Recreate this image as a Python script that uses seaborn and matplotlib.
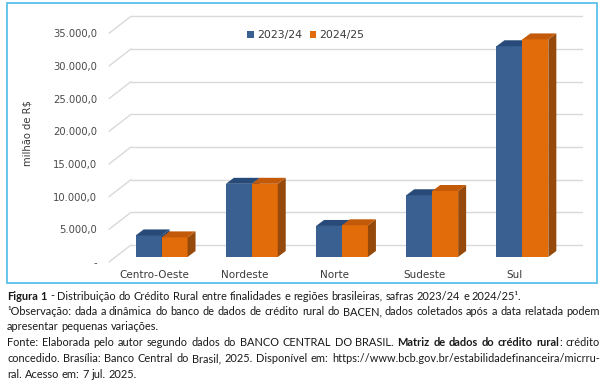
import numpy as np
import pandas as pd
import matplotlib
matplotlib.use("Agg")
import matplotlib.pyplot as plt
import seaborn as sns
from matplotlib.patches import Polygon, Rectangle
from matplotlib.lines import Line2D
from matplotlib import font_manager

# ---------------- data ----------------
regioes = ["Centro-Oeste", "Nordeste", "Norte", "Sudeste", "Sul"]
safras = ["2023/24", "2024/25"]
valores_2023_24 = [3300, 11200, 4750, 9450, 32250]
valores_2024_25 = [3000, 11200, 4850, 10100, 33300]
y_ticks = [0, 5000, 10000, 15000, 20000, 25000, 30000, 35000]
y_tick_labels = ["-", "5.000,0", "10.000,0", "15.000,0", "20.000,0",
                 "25.000,0", "30.000,0", "35.000,0"]
y_label = "milhão de R$"

caption_lines = [
    ([("Figura 1", "bold"), (" - Distribuição do Crédito Rural entre finalidades e regiões brasileiras, safras 2023/24 e 2024/25¹.", "normal")], False),
    ([("¹Observação: dada a dinâmica do banco de dados de crédito rural do BACEN, dados coletados após a data relatada podem", "normal")], True),
    ([("apresentar pequenas variações.", "normal")], False),
    ([("Fonte: Elaborada pelo autor segundo dados do BANCO CENTRAL DO BRASIL. ", "normal"), ("Matriz de dados do crédito rural", "bold"), (": crédito", "normal")], True),
    ([("concedido. Brasília: Banco Central do Brasil, 2025. Disponível em: https://www.bcb.gov.br/estabilidadefinanceira/micrru-", "normal")], True),
    ([("ral. Acesso em: 7 jul. 2025.", "normal")], False),
]

# ---------------- style ----------------
sns.set_style("white")
plt.rcParams["font.family"] = ["DejaVu Sans"]

BLUE = "#3A5F91"
BLUE_TOP = "#284A78"
BLUE_SIDE = "#2A4A72"
ORANGE = "#E36C0A"
ORANGE_TOP = "#C25A0A"
ORANGE_SIDE = "#954A0B"
GRID = "#D9D9D9"
TXT = "#4A4A4A"

W, H = 609, 382
fig = plt.figure(figsize=(W / 100, H / 100), dpi=100)
fig.patch.set_facecolor("white")

# front plane axes
ax = fig.add_axes([109 / W, (H - 262) / H, 451 / W, (262 - 33.3) / H])
ax.set_facecolor("none")

df = pd.DataFrame({
    "regiao": regioes * 2,
    "safra": [safras[0]] * len(regioes) + [safras[1]] * len(regioes),
    "valor": valores_2023_24 + valores_2024_25,
})
sns.barplot(data=df, x="regiao", y="valor", hue="safra", order=regioes,
            hue_order=safras, palette=[BLUE, ORANGE], width=0.575,
            saturation=1, ax=ax, legend=False, linewidth=0, errorbar=None)
ax.set_xlim(-0.5, 4.5)
ax.set_ylim(0, 35000)
for s in ax.spines.values():
    s.set_visible(False)

# pixel -> data scale
p0 = ax.transData.transform((0, 0))
p1 = ax.transData.transform((1, 1))
sx = p1[0] - p0[0]
sy = (p1[1] - p0[1])

def ddx(px):
    return px / sx

def ddy(px):
    return px / sy

# back wall gridlines (3D look)
floor_dx, floor_dy = ddx(22), ddy(17)
for v in y_ticks:
    ax.add_line(Line2D([-0.5, -0.5 + floor_dx], [v, v + floor_dy], color=GRID,
                       lw=1.0, clip_on=False, zorder=0.5))
    ax.add_line(Line2D([-0.5 + floor_dx, 4.5 + floor_dx], [v + floor_dy, v + floor_dy],
                       color=GRID, lw=1.0, clip_on=False, zorder=0.5))

# bars: shift into depth, add top and side faces
bar_dx, bar_dy = ddx(7.5), ddy(5)
dep_dx, dep_dy = ddx(8), ddy(6)
n = len(regioes)
for i, p in enumerate(ax.patches[: 2 * n]):
    is_blue = i < n
    z = 2 if is_blue else 3
    top_c = BLUE_TOP if is_blue else ORANGE_TOP
    side_c = BLUE_SIDE if is_blue else ORANGE_SIDE
    x0 = p.get_x() + bar_dx
    w = p.get_width()
    h = p.get_height()
    y0 = bar_dy
    p.set_x(x0)
    p.set_y(y0)
    p.set_zorder(z)
    p.set_clip_on(False)
    x1 = x0 + w
    yt = y0 + h
    side = Polygon([(x1, y0), (x1 + dep_dx, y0 + dep_dy), (x1 + dep_dx, yt + dep_dy), (x1, yt)],
                   closed=True, facecolor=side_c, edgecolor="none", zorder=z + 0.1, clip_on=False)
    top = Polygon([(x0, yt), (x1, yt), (x1 + dep_dx, yt + dep_dy), (x0 + dep_dx, yt + dep_dy)],
                  closed=True, facecolor=top_c, edgecolor="none", zorder=z + 0.1, clip_on=False)
    ax.add_patch(side)
    ax.add_patch(top)

# ticks
ax.set_yticks(y_ticks)
ax.set_yticklabels(y_tick_labels, color=TXT, fontsize=7.2)
ax.set_xticks(range(len(regioes)))
ax.set_xticklabels(regioes, color="#3A3A3A", fontsize=7.5)
ax.tick_params(axis="y", length=0, pad=8.6)
ax.tick_params(axis="x", length=0, pad=6)
ax.set_xlabel("")
ax.set_ylabel("")

fig.text(28 / W, (H - 133) / H, y_label, rotation=90, ha="center", va="center",
         fontsize=7.2, color="#3A3A3A", parse_math=False)

# legend
handles = [Rectangle((0, 0), 1, 1, facecolor=BLUE, edgecolor="none"),
           Rectangle((0, 0), 1, 1, facecolor=ORANGE, edgecolor="none")]
fig.legend(handles, safras, loc="center", bbox_to_anchor=(306 / W, (H - 35) / H),
           ncol=2, frameon=False, fontsize=7.8, handlelength=0.6, handleheight=0.6,
           handletextpad=0.3, columnspacing=0.7, labelcolor="#3A3A3A")

# chart border
fig.patches.append(Rectangle((7 / W, (H - 283) / H), 590 / W, 280 / H, transform=fig.transFigure,
                             fill=False, edgecolor="#5BC0E8", lw=1.3))

# ---------------- caption ----------------
renderer = fig.canvas.get_renderer()
avail = {f.name for f in font_manager.fontManager.ttflist}
CAP_FAMILY = "Lato" if "Lato" in avail else "DejaVu Sans"

def text_w(s, size, weight):
    t = fig.text(0, 0, s, fontsize=size, fontweight=weight, family=CAP_FAMILY)
    w = t.get_window_extent(renderer).width
    t.remove()
    return w

def line_natural(segs, size):
    return sum(text_w(s.replace(" ", "\u00a0"), size, wt) for s, wt in segs)

# choose size so that line 1 spans ~512 px
base = 10
w1 = line_natural(caption_lines[0][0], base)
cap_size = base * 512 / w1
left_px, right_px = 7, 600
line_base = [299.5, 315, 330.5, 346.5, 362, 377.5]

for (segs, justify), ypx in zip(caption_lines, line_base):
    words = []
    prev_ends_space = True
    for s, wt in segs:
        parts = s.split(" ")
        for k, part in enumerate(parts):
            if part == "":
                continue
            attach = (k == 0 and not s.startswith(" ") and not prev_ends_space and len(words) > 0)
            words.append([part, wt, attach])
        prev_ends_space = s.endswith(" ")
    groups = []
    for part, wt, attach in words:
        if attach and groups:
            groups[-1].append((part, wt))
        else:
            groups.append([(part, wt)])
    gw = [sum(text_w(p, cap_size, wt) for p, wt in g) for g in groups]
    space = text_w("a a", cap_size, "normal") - text_w("aa", cap_size, "normal")
    if justify and len(groups) > 1:
        gap = ((right_px - left_px) - sum(gw)) / (len(groups) - 1)
    else:
        gap = space
    x = left_px
    for g, w in zip(groups, gw):
        xx = x
        for p, wt in g:
            fig.text(xx / W, (H - ypx) / H, p, fontsize=cap_size, fontweight=wt,
                     family=CAP_FAMILY, color="#1A1A1A", va="baseline", ha="left",
                     parse_math=False)
            xx += text_w(p, cap_size, wt)
        x += w + gap

fig.savefig("out.png", dpi=100)
